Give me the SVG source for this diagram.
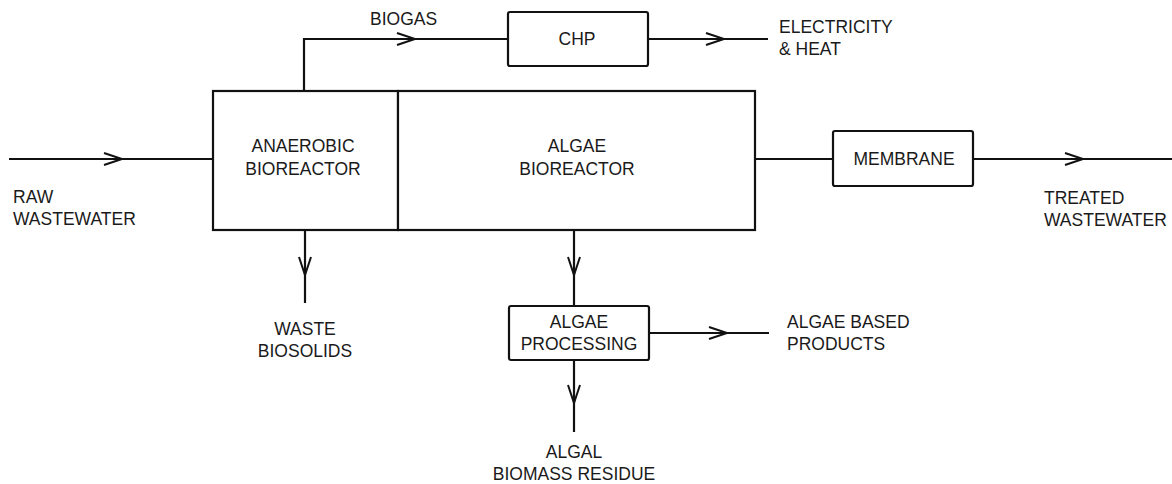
<svg xmlns="http://www.w3.org/2000/svg" width="1172" height="484" viewBox="0 0 1172 484">
<style>
.box{fill:#fff;stroke:#111;stroke-width:2.2}
.ln{fill:none;stroke:#111;stroke-width:2.2}
.ln.a{marker-end:url(#chev)}
text{font-family:"Liberation Sans",Arial,sans-serif;font-size:17.5px;fill:#1a1a1a}
.c{text-anchor:middle}
</style>
<defs>
<marker id="chev" markerUnits="userSpaceOnUse" markerWidth="24" markerHeight="16" viewBox="-20 -8 24 16" refX="0" refY="0" orient="auto">
<path d="M-18,-6 L0,0 L-18,6" fill="none" stroke="#111" stroke-width="2"/>
</marker>
</defs>
<rect width="1172" height="484" fill="#fff"/>
<g id="connectors">
<path class="ln a" d="M9,159 H122"/><path class="ln" d="M122,159 H213"/>
<path class="ln a" d="M304,91 V39 H415"/><path class="ln" d="M415,39 H508"/>
<path class="ln a" d="M648,39 H724"/><path class="ln" d="M724,39 H768"/>
<path class="ln" d="M755,159 H833"/>
<path class="ln a" d="M973,159 H1083"/><path class="ln" d="M1083,159 H1172"/>
<path class="ln a" d="M305,231 V275"/><path class="ln" d="M305,275 V303"/>
<path class="ln a" d="M574,231 V275"/><path class="ln" d="M574,275 V306"/>
<path class="ln a" d="M649,333 H727"/><path class="ln" d="M727,333 H769"/>
<path class="ln a" d="M574,360 V403"/><path class="ln" d="M574,403 V432"/>
</g>
<g id="anaerobic">
<rect class="box" x="213" y="91" width="185" height="139"/>
<text class="c" x="303" y="152">ANAEROBIC</text>
<text class="c" x="303" y="175">BIOREACTOR</text>
</g>
<g id="algae-bioreactor">
<rect class="box" x="398" y="91" width="357" height="139"/>
<text class="c" x="577" y="152">ALGAE</text>
<text class="c" x="577" y="175">BIOREACTOR</text>
</g>
<g id="chp">
<rect class="box" x="508" y="12" width="140" height="54" rx="2"/>
<text class="c" x="577" y="45">CHP</text>
</g>
<g id="membrane">
<rect class="box" x="833" y="131" width="140" height="55" rx="2"/>
<text class="c" x="904" y="165">MEMBRANE</text>
</g>
<g id="algae-processing">
<rect class="box" x="509" y="306" width="140" height="54" rx="2"/>
<text class="c" x="579" y="328">ALGAE</text>
<text class="c" x="579" y="350">PROCESSING</text>
</g>
<g id="labels">
<text x="13" y="203">RAW</text>
<text x="13" y="225">WASTEWATER</text>
<text x="370" y="25">BIOGAS</text>
<text x="779" y="33">ELECTRICITY</text>
<text x="779" y="55">&amp; HEAT</text>
<text x="1044" y="204">TREATED</text>
<text x="1044" y="226">WASTEWATER</text>
<text class="c" x="305" y="335">WASTE</text>
<text class="c" x="305" y="357">BIOSOLIDS</text>
<text x="787" y="328">ALGAE BASED</text>
<text x="787" y="350">PRODUCTS</text>
<text class="c" x="574" y="458">ALGAL</text>
<text class="c" x="574" y="480">BIOMASS RESIDUE</text>
</g>
</svg>
